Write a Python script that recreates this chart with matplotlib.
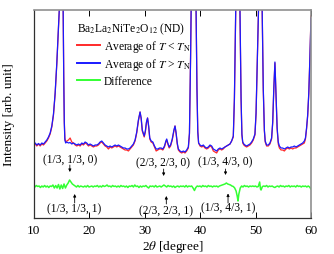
import matplotlib
matplotlib.use("Agg")
import matplotlib.pyplot as plt

plt.rcParams['font.family'] = 'serif'
plt.rcParams['font.serif'] = ['Liberation Serif', 'DejaVu Serif']
plt.rcParams['mathtext.fontset'] = 'stix'

# 2theta grid of the averaged patterns
two_theta = [10.0, 10.3, 10.6, 10.9, 11.2, 11.5, 11.8, 12.1, 12.4, 12.7, 13.0, 13.3, 13.6, 13.9,
             14.2, 14.5, 14.7, 14.85, 15.0, 15.15, 15.35, 15.45, 15.55, 15.65, 15.8, 16.0, 16.3,
             16.6, 16.9, 17.2, 17.5, 17.8, 18.1, 18.4, 18.7, 19.0, 19.3, 19.6, 19.9, 20.2, 20.5,
             20.8, 21.1, 21.4, 21.7, 22.0, 22.3, 22.6, 22.9, 23.2, 23.5, 23.8, 24.1, 24.4, 24.7,
             25.0, 25.3, 25.6, 25.9, 26.2, 26.5, 26.8, 27.1, 27.4, 27.7, 28.0, 28.3, 28.6, 28.9,
             29.2, 29.4, 29.6, 29.95, 30.15, 30.35, 30.55, 30.75, 30.95, 31.2, 31.5, 31.8, 32.1,
             32.4, 32.7, 33.0, 33.3, 33.6, 33.85, 34.0, 34.2, 34.45, 34.7, 35.0, 35.3, 35.5, 35.7,
             35.9, 36.1, 36.4, 36.7, 37.0, 37.3, 37.6, 37.9, 38.1, 38.3, 38.45, 38.85, 39.25,
             39.45, 39.6, 39.75, 40.0, 40.3, 40.6, 40.9, 41.2, 41.5, 41.8, 42.1, 42.4, 42.7, 43.0,
             43.3, 43.6, 43.9, 44.2, 44.5, 44.8, 45.1, 45.4, 45.7, 46.0, 46.2, 46.45, 46.85, 47.2,
             47.4, 47.55, 47.7, 47.9, 48.1, 48.4, 48.7, 49.0, 49.3, 49.6, 49.9, 50.1, 50.3, 50.55,
             50.85, 51.2, 51.4, 51.6, 51.75, 52.0, 52.3, 52.6, 52.9, 53.1, 53.3, 53.5, 53.7, 53.9,
             54.1, 54.3, 54.6, 54.9, 55.2, 55.5, 55.8, 56.1, 56.4, 56.7, 57.0, 57.3, 57.6, 57.9,
             58.2, 58.5, 58.8, 59.0, 59.2, 59.4, 59.6, 59.8, 60.0]

# average of T > TN (blue)
avg_above = [74, 75, 73, 74.5, 73, 75, 74, 76, 78, 81, 85, 92, 104, 125,
             155, 190, 215, 300, 420, 380, 205, 140, 95, 78, 75, 76, 75,
             75.5, 74, 75, 74, 73, 74, 73, 75, 74, 76, 75, 73, 74, 73,
             72, 73, 73, 74, 76, 77, 75, 73, 72, 71, 72, 71, 72, 73,
             72, 73, 72, 71, 70, 70, 69, 69, 70, 72, 74, 78, 86, 98,
             106, 100, 88, 82, 87, 96, 100, 92, 80, 77, 76, 72, 69,
             69, 70, 70, 69, 72, 77, 79, 75, 71, 73, 79, 88, 92, 85,
             75, 69, 67, 66, 67, 66, 68, 71, 85, 160, 230, 460, 230,
             130, 86, 75, 73, 72, 73, 71, 70, 71, 73, 72, 69, 68, 67,
             69, 70, 69, 70, 71, 72, 73, 74, 77, 82, 120, 210, 500, 210,
             120, 84, 76, 74, 73, 72, 73, 74, 76, 79, 84, 105, 150, 210,
             460, 210, 130, 88, 77, 73, 73, 75, 80, 96, 130, 156, 122, 90,
             76, 72, 70, 70, 69, 70, 71, 70, 71, 71, 72, 71, 72, 73,
             74, 75, 77, 80, 90, 103, 125, 160, 200]

# average of T < TN (red)
avg_below = [73, 74, 72, 74, 72, 74, 73, 75, 77, 80, 84, 91, 103, 124,
             154, 189, 214, 300, 420, 380, 205, 141, 97, 80, 76, 77, 78,
             80, 76, 75, 73, 72, 73, 72, 74, 73, 75, 74, 72, 73, 72,
             71, 72, 72, 73, 75, 76, 74, 72, 71, 69, 71, 70, 71, 72,
             71, 72, 71, 70, 69, 68, 68, 67, 69, 71, 73, 77, 85, 97,
             106, 99, 87, 81, 86, 95, 100, 91, 79, 76, 75, 71, 67,
             68, 69, 69, 68, 71, 76, 78, 74, 70, 72, 78, 87, 92, 84,
             74, 68, 66, 65, 66, 65, 67, 70, 84, 160, 230, 460, 230,
             130, 87, 75, 72, 71, 72, 70, 69, 70, 72, 71, 67, 66, 65,
             68, 69, 68, 69, 71, 72, 73, 74, 77, 81, 118, 205, 480, 205,
             118, 83, 75, 73, 72, 71, 72, 73, 75, 78, 83, 104, 150, 210,
             460, 208, 128, 87, 76, 72, 72, 74, 79, 95, 129, 155, 121, 89,
             74, 70, 68, 68, 67, 69, 70, 69, 70, 69, 70, 70, 71, 72,
             73, 74, 75, 79, 89, 102, 124, 160, 202]

# difference (shifted)
diff_theta = [10.0, 10.25, 10.5, 10.75, 11.0, 11.25, 11.5, 11.75, 12.0, 12.25, 12.5, 12.75,
              13.0, 13.25, 13.5, 13.75, 14.0, 14.25, 14.5, 14.75, 15.0, 15.25, 15.5, 15.75,
              16.0, 16.25, 16.5, 16.75, 17.0, 17.25, 17.5, 17.75, 18.0, 18.25, 18.5, 18.75,
              19.0, 19.25, 19.5, 19.75, 20.0, 20.25, 20.5, 20.75, 21.0, 21.25, 21.5, 21.75,
              22.0, 22.25, 22.5, 22.75, 23.0, 23.25, 23.5, 23.75, 24.0, 24.25, 24.5, 24.75,
              25.0, 25.25, 25.5, 25.75, 26.0, 26.25, 26.5, 26.75, 27.0, 27.25, 27.5, 27.75,
              28.0, 28.25, 28.5, 28.75, 29.0, 29.25, 29.5, 29.75, 30.0, 30.25, 30.5, 30.75,
              31.0, 31.25, 31.5, 31.75, 32.0, 32.25, 32.5, 32.75, 33.0, 33.25, 33.5, 33.75,
              34.0, 34.25, 34.5, 34.75, 35.0, 35.25, 35.5, 35.75, 36.0, 36.25, 36.5, 36.75,
              37.0, 37.25, 37.5, 37.75, 38.0, 38.25, 38.5, 38.75, 39.0, 39.25, 39.5, 39.75,
              40.0, 40.25, 40.5, 40.75, 41.0, 41.25, 41.5, 41.75, 42.0, 42.25, 42.5, 42.75,
              43.0, 43.25, 43.5, 43.75, 44.0, 44.25, 44.5, 44.75, 45.0, 45.25, 45.5, 45.75,
              46.0, 46.25, 46.5, 46.7, 46.85, 47.0, 47.25, 47.5, 47.75, 48.0, 48.25, 48.5,
              48.75, 49.0, 49.25, 49.5, 49.75, 50.0, 50.25, 50.5, 50.75, 50.9, 51.0, 51.25,
              51.5, 51.75, 52.0, 52.25, 52.5, 52.75, 53.0, 53.25, 53.5, 53.75, 54.0, 54.25,
              54.5, 54.75, 55.0, 55.25, 55.5, 55.75, 56.0, 56.25, 56.5, 56.75, 57.0, 57.25,
              57.5, 57.75, 58.0, 58.25, 58.5, 58.75, 59.0, 59.25, 59.5, 59.75, 60.0]
diff_int = [32, 31, 32.5, 31.5, 32, 30.5, 32, 31, 32.5, 31, 32, 30.5,
            32, 31.5, 33, 30, 32.5, 30, 33.5, 29, 33, 29.5, 34, 30,
            33, 35, 38, 36, 34, 33, 32, 31, 32.5, 31, 32, 31.5,
            31, 32, 31, 32.5, 31, 31.5, 32, 31, 32, 31.5, 32.5, 31,
            32, 31, 32.5, 31.5, 32, 33, 31.5, 32, 31, 32.5, 31.5, 32,
            31, 32, 31, 32.5, 31.5, 32, 31, 32, 30.5, 32, 31.5, 32.5,
            31, 33, 31.5, 32, 30.5, 32, 31, 32, 31.5, 32.5, 31, 30,
            32, 31.5, 32, 31, 32.5, 31, 31.5, 32, 31, 32, 33, 32,
            31, 32.5, 31.5, 32, 31, 32, 30.5, 31.5, 32, 31, 32, 31.5,
            32, 31, 32.5, 31, 32, 31.5, 32, 30, 27.5, 30.5, 32, 31.5,
            32, 31, 32.5, 31.5, 32, 31, 32.5, 31.5, 32, 31, 32, 31.5,
            32, 31, 32, 32.5, 33, 33.5, 34, 35, 34, 33.5, 33, 32,
            31.5, 30, 27, 22, 17, 24, 30, 32, 31, 32.5, 31.5, 32,
            31, 32, 31.5, 32, 31.5, 32, 31, 31.5, 36, 29, 28, 31.5,
            32, 31.5, 32.5, 31, 32, 31.5, 32, 31, 30.5, 31.5, 32, 31,
            32.5, 31.5, 32, 31, 32, 31.5, 32.5, 31, 32, 31.5, 32, 31,
            32.5, 31.5, 32, 31, 32, 31.5, 32, 31, 32, 31, 29]

# reflection labels: text, text position, arrow tail, arrow tip
labels = ['(1/3, 1/3, 0)', '(2/3, 2/3, 0)', '(1/3, 4/3, 0)',
          '(1/3, 1/3, 1)', '(2/3, 2/3, 1)', '(1/3, 4/3, 1)']
label_pos = [(16.6, 59), (33.4, 56), (44.5, 57), (17.3, 10), (33.9, 8), (45.0, 11)]
arrow_tail = [(16.55, 53), (33.45, 49), (44.6, 49), (17.42, 15), (33.93, 14), (45.05, 15)]
arrow_tip = [(16.55, 46), (33.45, 42), (44.6, 43), (17.42, 24), (33.93, 22), (45.05, 24.5)]

fig = plt.figure(figsize=(3.34, 2.55), dpi=100)
ax = fig.add_axes([33.5 / 334, 1 - 219 / 255, 277.5 / 334, 208 / 255])

ax.plot(two_theta, avg_below, color='#ff2a2a', lw=0.9, label=r'Average of $T$ < $T_{\rm N}$')
ax.plot(two_theta, avg_above, color='#1a1aff', lw=0.9, label=r'Average of $T$ > $T_{\rm N}$')
ax.plot(diff_theta, diff_int, color='#33ff33', lw=1.1, label='Difference')

for t, p, a, b in zip(labels, label_pos, arrow_tail, arrow_tip):
    ax.text(p[0], p[1], t, ha='center', va='center', fontsize=8.3)
    ax.annotate('', xy=b, xytext=a,
                arrowprops=dict(arrowstyle='-|>', color='black', lw=0.6,
                                mutation_scale=4, shrinkA=0, shrinkB=0))

ax.set_xlim(10, 60)
ax.set_ylim(0, 208)
ax.set_yticks([])
ax.set_xticks([10, 20, 30, 40, 50, 60])
ax.tick_params(axis='x', direction='in', length=4, width=0.7, top=True, labelsize=9.5, pad=4)
for s in ['top', 'right']:
    ax.spines[s].set_color('#909090')
    ax.spines[s].set_linewidth(1.2)
for s in ['left', 'bottom']:
    ax.spines[s].set_color('#303030')
    ax.spines[s].set_linewidth(0.9)

ax.set_xlabel(r'2$\theta$ [degree]', fontsize=9.5, labelpad=2)
ax.set_ylabel('Intensity [arb. unit]', fontsize=9.5, labelpad=13)

leg = ax.legend(loc='upper left', bbox_to_anchor=(0.155, 0.95), frameon=False, fontsize=8.3,
                title=r'Ba$_2$La$_2$NiTe$_2$O$_{12}$ (ND)', title_fontsize=8.3,
                handlelength=2.0, handletextpad=0.4, labelspacing=0.2,
                borderpad=0, borderaxespad=0, alignment='left')
for h in leg.get_lines():
    h.set_linewidth(1.4)

fig.savefig('out.png', dpi=100)
